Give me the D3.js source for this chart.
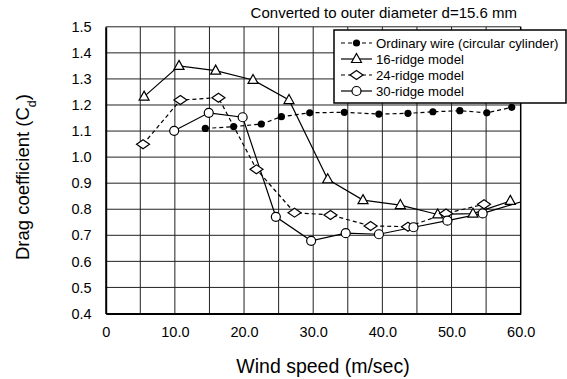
<!DOCTYPE html>
<html>
<head>
<meta charset="utf-8">
<script src="https://cdn.jsdelivr.net/npm/d3@7"></script>
<style>
  body { margin: 0; background: #fff; }
  svg { display: block; }
  text { font-family: "Liberation Sans", Arial, sans-serif; fill: #000; }
</style>
</head>
<body>
<script>
// Wind speed (m/s) and drag coefficient Cd for each conductor model
const ordinaryX = [14.4, 18.5, 22.5, 25.4, 29.5, 34.5, 39.5, 43.7, 47.3, 51.2, 55.1, 58.7];
const ordinaryY = [1.110, 1.117, 1.127, 1.155, 1.170, 1.172, 1.165, 1.168, 1.174, 1.178, 1.170, 1.191];

const ridge16X = [5.55, 10.6, 15.9, 21.3, 26.5, 32.1, 37.2, 42.6, 48.0, 53.1, 58.5];
const ridge16Y = [1.232, 1.350, 1.332, 1.296, 1.219, 0.915, 0.835, 0.816, 0.780, 0.783, 0.832];

const ridge24X = [5.4, 10.8, 16.3, 21.8, 27.3, 32.5, 38.3, 43.7, 49.2, 54.7];
const ridge24Y = [1.049, 1.219, 1.228, 0.953, 0.787, 0.778, 0.736, 0.733, 0.784, 0.819];

const ridge30X = [9.9, 14.9, 19.8, 24.6, 29.7, 34.7, 39.5, 44.5, 49.4, 54.5, 61.0];
const ridge30Y = [1.101, 1.170, 1.153, 0.771, 0.679, 0.708, 0.704, 0.731, 0.756, 0.784, 0.836];

const xTicks = [0, 10, 20, 30, 40, 50, 60];
const yTicks = [0.4, 0.5, 0.6, 0.7, 0.8, 0.9, 1.0, 1.1, 1.2, 1.3, 1.4, 1.5];
const xGrid = [5, 10, 15, 20, 25, 30, 35, 40, 45, 50, 55];

const seriesNames = ["Ordinary wire (circular cylinder)", "16-ridge model", "24-ridge model", "30-ridge model"];

const W = 567, H = 379;
const plot = { left: 105.7, right: 520.7, top: 26.8, bottom: 313.5 };

const x = d3.scaleLinear().domain([0, 60]).range([plot.left, plot.right]);
const y = d3.scaleLinear().domain([0.4, 1.5]).range([plot.bottom, plot.top]);

const svg = d3.select("body").append("svg").attr("width", W).attr("height", H);

svg.append("defs").append("clipPath").attr("id", "plotClip")
  .append("rect")
  .attr("x", plot.left).attr("y", plot.top - 6)
  .attr("width", plot.right - plot.left).attr("height", plot.bottom - plot.top + 12);

// grid
const grid = svg.append("g");
grid.selectAll("line.v").data(xGrid).join("line")
  .attr("x1", d => x(d)).attr("x2", d => x(d))
  .attr("y1", plot.top).attr("y2", plot.bottom)
  .attr("stroke", "#222").attr("stroke-width", 1);
grid.selectAll("line.h").data(yTicks.slice(1)).join("line")
  .attr("x1", plot.left).attr("x2", plot.right)
  .attr("y1", d => y(d)).attr("y2", d => y(d))
  .attr("stroke", "#222").attr("stroke-width", 1);

// frame
svg.append("line").attr("x1", plot.right).attr("x2", plot.right)
  .attr("y1", plot.top).attr("y2", plot.bottom).attr("stroke", "#000").attr("stroke-width", 1.5);

// axes
const tickFont = "14.5px";
const xAxis = d3.axisBottom(x).tickValues(xTicks).tickSize(0).tickPadding(13)
  .tickFormat(d => d === 0 ? "0" : d3.format(".1f")(d));
const gx = svg.append("g").attr("transform", `translate(0,${plot.bottom})`).call(xAxis);
gx.select(".domain").attr("stroke", "#000").attr("stroke-width", 2);
gx.selectAll("text").style("font-size", tickFont).style("font-family", "Liberation Sans, Arial, sans-serif");

const yAxis = d3.axisLeft(y).tickValues(yTicks).tickSize(0).tickPadding(14)
  .tickFormat(d3.format(".1f"));
const gy = svg.append("g").attr("transform", `translate(${plot.left},0)`).call(yAxis);
gy.select(".domain").attr("stroke", "#000").attr("stroke-width", 2);
gy.selectAll("text").style("font-size", tickFont).style("font-family", "Liberation Sans, Arial, sans-serif");

// axis titles
svg.append("text").attr("x", 323).attr("y", 373)
  .attr("text-anchor", "middle").style("font-size", "19.5px").text("Wind speed (m/sec)");

const yt = svg.append("text")
  .attr("transform", `translate(29,177) rotate(-90)`)
  .attr("text-anchor", "middle").style("font-size", "18.5px");
yt.append("tspan").text("Drag coefficient (C");
yt.append("tspan").attr("baseline-shift", "sub").style("font-size", "12.5px").text("d");
yt.append("tspan").text(")");

// note
svg.append("text").attr("x", 517).attr("y", 18)
  .attr("text-anchor", "end").style("font-size", "15px")
  .text("Converted to outer diameter d=15.6 mm");

// series
const zip = (xs, ys) => xs.map((v, i) => [v, ys[i]]);
const series = [
  { name: seriesNames[0], pts: zip(ordinaryX, ordinaryY), dash: "4,3", marker: "dot" },
  { name: seriesNames[1], pts: zip(ridge16X, ridge16Y), dash: null, marker: "tri" },
  { name: seriesNames[2], pts: zip(ridge24X, ridge24Y), dash: "4,3", marker: "dia" },
  { name: seriesNames[3], pts: zip(ridge30X, ridge30Y), dash: null, marker: "circ" }
];

const line = d3.line().x(d => x(d[0])).y(d => y(d[1]));
const layer = svg.append("g").attr("clip-path", "url(#plotClip)");

function drawMarker(g, type, cx, cy) {
  if (type === "dot") {
    g.append("circle").attr("cx", cx).attr("cy", cy).attr("r", 3.6).attr("fill", "#000");
  } else if (type === "tri") {
    g.append("path").attr("d", `M${cx},${cy - 5.5}L${cx + 5},${cy + 3.5}L${cx - 5},${cy + 3.5}Z`)
      .attr("fill", "#fff").attr("stroke", "#000").attr("stroke-width", 1.2);
  } else if (type === "dia") {
    g.append("path").attr("d", `M${cx - 6.5},${cy}L${cx},${cy - 4.5}L${cx + 6.5},${cy}L${cx},${cy + 4.5}Z`)
      .attr("fill", "#fff").attr("stroke", "#000").attr("stroke-width", 1.2);
  } else {
    g.append("circle").attr("cx", cx).attr("cy", cy).attr("r", 4.5)
      .attr("fill", "#fff").attr("stroke", "#000").attr("stroke-width", 1.2);
  }
}

series.forEach(s => {
  layer.append("path").datum(s.pts).attr("d", line)
    .attr("fill", "none").attr("stroke", "#000").attr("stroke-width", 1.2)
    .attr("stroke-dasharray", s.dash);
});
series.forEach(s => {
  const g = layer.append("g");
  s.pts.forEach(p => drawMarker(g, s.marker, x(p[0]), y(p[1])));
});

// legend
const lg = svg.append("g");
lg.append("rect").attr("x", 334).attr("y", 30).attr("width", 232).attr("height", 73)
  .attr("fill", "#fff").attr("stroke", "#000").attr("stroke-width", 1.5);
series.forEach((s, i) => {
  const ly = 43 + i * 16;
  lg.append("line").attr("x1", 341).attr("x2", 372).attr("y1", ly).attr("y2", ly)
    .attr("stroke", "#000").attr("stroke-width", 1.2).attr("stroke-dasharray", s.dash);
  drawMarker(lg, s.marker, 356.5, ly);
  lg.append("text").attr("x", 376).attr("y", ly + 4.5).style("font-size", "13.2px").text(s.name);
});
</script>
</body>
</html>
